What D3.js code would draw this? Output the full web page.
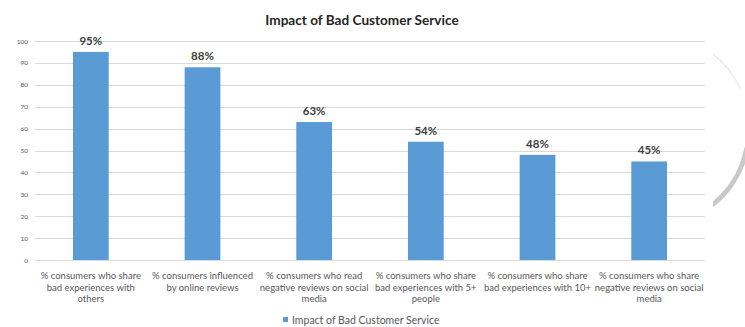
<!DOCTYPE html>
<html>
<head>
<meta charset="utf-8">
<script src="https://cdnjs.cloudflare.com/ajax/libs/d3/7.8.5/d3.min.js"></script>
<style>
  body { margin: 0; background: #fff; }
  svg { display: block; font-family: Lato, "Open Sans", sans-serif; }
</style>
</head>
<body>
<svg id="chart" width="745" height="327"></svg>
<script>
var title = "Impact of Bad Customer Service";
var seriesName = "Impact of Bad Customer Service";
var categories = [
  "% consumers who share\nbad experiences with\nothers",
  "% consumers influenced\nby online reviews",
  "% consumers who read\nnegative reviews on social\nmedia",
  "% consumers who share\nbad experiences with 5+\npeople",
  "% consumers who share\nbad experiences with 10+",
  "% consumers who share\nnegative reviews on social\nmedia"
];
var values = [95, 88, 63, 54, 48, 45];
var yTicks = [0, 10, 20, 30, 40, 50, 60, 70, 80, 90, 100];

var barColor = "#5b9bd5";
var textColor = "#595959";

var svg = d3.select("#chart");
var margin = {left: 35, right: 40, top: 41, bottom: 67};
var W = 745, H = 327;

// decorative grey arc on the right edge (behind the chart)
var deco = svg.append("g").attr("transform", "translate(653,130)");
deco.append("path")
  .attr("d", d3.arc()({innerRadius: 93, outerRadius: 98, startAngle: Math.PI * 0.56, endAngle: Math.PI * 0.8}))
  .attr("fill", "#c9c9c9");
deco.append("path")
  .attr("d", d3.arc()({innerRadius: 96, outerRadius: 97.5, startAngle: Math.PI * 0.2, endAngle: Math.PI * 0.36}))
  .attr("fill", "#ececec");
svg.append("rect").attr("x", 0).attr("y", 0).attr("width", 713).attr("height", H).attr("fill", "#fff");

var x = d3.scaleBand()
  .domain(categories)
  .range([margin.left, W - margin.right])
  .paddingInner(0.68)
  .paddingOuter(0.34);

var y = d3.scaleLinear()
  .domain([0, 100])
  .range([H - margin.bottom, margin.top]);

// gridlines
svg.append("g")
  .selectAll("line")
  .data(yTicks)
  .join("line")
  .attr("x1", margin.left)
  .attr("x2", W - margin.right)
  .attr("y1", function(d) { return Math.round(y(d)) + 0.5; })
  .attr("y2", function(d) { return Math.round(y(d)) + 0.5; })
  .attr("stroke", "#d9d9d9")
  .attr("stroke-width", 1);

// y axis labels
var yAxis = svg.append("g")
  .attr("transform", "translate(" + (margin.left - 7) + ",0)")
  .call(d3.axisLeft(y).tickValues(yTicks).tickSize(0).tickPadding(0));
yAxis.select(".domain").remove();
yAxis.selectAll("text")
  .attr("fill", textColor)
  .style("font-size", "6.5px")
  .style("font-family", "Lato, sans-serif");

// bars
svg.append("g")
  .selectAll("rect")
  .data(values)
  .join("rect")
  .attr("x", function(d, i) { return x(categories[i]); })
  .attr("width", x.bandwidth())
  .attr("y", function(d) { return y(d); })
  .attr("height", function(d) { return y(0) - y(d); })
  .attr("fill", barColor);

// value labels
svg.append("g")
  .selectAll("text")
  .data(values)
  .join("text")
  .attr("x", function(d, i) { return x(categories[i]) + x.bandwidth() / 2; })
  .attr("y", function(d) { return y(d) - 7; })
  .attr("text-anchor", "middle")
  .attr("fill", "#404040")
  .style("font-size", "11.5px")
  .style("font-weight", "bold")
  .text(function(d) { return d + "%"; });

// category labels
var cat = svg.append("g")
  .selectAll("text")
  .data(categories)
  .join("text")
  .attr("x", function(d) { return x(d) + x.bandwidth() / 2; })
  .attr("y", 279)
  .attr("text-anchor", "middle")
  .attr("fill", textColor)
  .style("font-size", "9.5px");
cat.each(function(d) {
  var t = d3.select(this);
  d.split("\n").forEach(function(line, j) {
    t.append("tspan")
      .attr("x", t.attr("x"))
      .attr("dy", j === 0 ? 0 : 11.5)
      .text(line);
  });
});

// title
svg.append("text")
  .attr("x", 362)
  .attr("y", 25)
  .attr("text-anchor", "middle")
  .attr("fill", "#262626")
  .style("font-size", "13.6px")
  .style("font-weight", "bold")
  .text(title);

// legend
svg.append("rect")
  .attr("x", 283)
  .attr("y", 317)
  .attr("width", 5)
  .attr("height", 5)
  .attr("fill", barColor);
svg.append("text")
  .attr("x", 292)
  .attr("y", 323.5)
  .attr("fill", textColor)
  .style("font-size", "10.5px")
  .text(seriesName);
</script>
</body>
</html>
